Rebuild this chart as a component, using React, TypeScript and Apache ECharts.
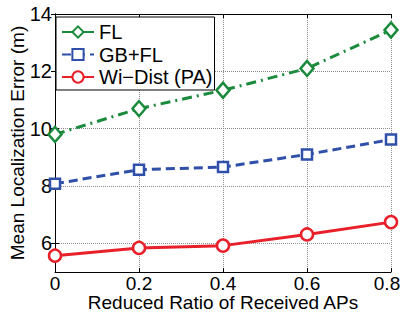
import React, { useEffect, useRef } from "react";
import * as echarts from "echarts";

const xValues = [0, 0.2, 0.4, 0.6, 0.8];
const flValues = [9.8, 10.7, 11.34, 12.1, 13.44];
const gbflValues = [8.08, 8.57, 8.66, 9.1, 9.62];
const wiDistValues = [5.57, 5.84, 5.92, 6.31, 6.74];
const yTicks = [6, 8, 10, 12, 14];
const seriesNames = ["FL", "GB+FL", "Wi\u2212Dist (PA)"];

const FONT = "'Liberation Sans', Arial, Helvetica, sans-serif";

export default function App() {
  const ref = useRef<HTMLDivElement>(null);
  useEffect(() => {
    if (!ref.current) return;
    const chart = echarts.init(ref.current, undefined, { renderer: "svg" });
    const pairs = (ys: number[]) => xValues.map((x, i) => [x, ys[i]]);
    const axisText = { color: "#000", fontSize: 20, fontFamily: FONT };
    const xLabelText = { color: "#000", fontSize: 19, fontFamily: FONT, lineHeight: 14 };
    const boxLine = { show: true, lineStyle: { color: "#000", width: 1 } };
    const xMax = xValues[xValues.length - 1];
    chart.setOption({
      animation: false,
      backgroundColor: "#fff",
      grid: { left: 55, right: 11, top: 14, bottom: 42, containLabel: false, outerBoundsMode: "none" },
      legend: {
        orient: "vertical",
        left: 56,
        top: 17,
        padding: [5, 2, 3, 5],
        itemGap: 2.5,
        itemWidth: 32,
        itemHeight: 14,
        backgroundColor: "#fff",
        borderColor: "#000",
        borderWidth: 1,
        borderRadius: 0,
        textStyle: { color: "#000", fontSize: 20, fontFamily: FONT, lineHeight: 20 },
        data: seriesNames,
      },
      xAxis: [
        {
          type: "value",
          min: 0,
          max: 0.8,
          interval: 0.2,
          position: "bottom",
          name: "Reduced Ratio of Received APs",
          nameLocation: "middle",
          nameGap: 23,
          nameMoveOverlap: false,
          nameTextStyle: { ...axisText, fontSize: 19, lineHeight: 14 },
          axisLine: boxLine,
          axisTick: { show: true, inside: true, length: 4, lineStyle: { color: "#000" } },
          axisLabel: {
            ...xLabelText,
            margin: 4,
            formatter: (v: number) => (Math.abs(v - xMax) < 1e-9 ? "{r|" + v + "}" : String(v)),
            rich: { r: { ...xLabelText, padding: [0, 8, 0, 0] } },
          },
          splitLine: { show: true, lineStyle: { type: "dotted", color: "#8c8c8c", width: 1 } },
        },
        {
          type: "value",
          min: 0,
          max: 0.8,
          interval: 0.2,
          position: "top",
          axisLine: boxLine,
          axisTick: { show: true, inside: true, length: 4, lineStyle: { color: "#000" } },
          axisLabel: { show: false },
          splitLine: { show: false },
        },
      ],
      yAxis: [
        {
          type: "value",
          min: 5,
          max: 14,
          position: "left",
          name: "Mean Localization Error (m)",
          nameLocation: "middle",
          nameGap: 28,
          nameMoveOverlap: false,
          nameTextStyle: { ...axisText, fontSize: 19 },
          axisLine: boxLine,
          axisTick: { show: true, inside: true, length: 4, lineStyle: { color: "#000" }, customValues: yTicks },
          axisLabel: { ...axisText, margin: 3, customValues: yTicks },
          splitLine: { show: true, lineStyle: { type: "dotted", color: "#8c8c8c", width: 1 } },
        },
        {
          type: "value",
          min: 5,
          max: 14,
          position: "right",
          axisLine: boxLine,
          axisTick: { show: true, inside: true, length: 4, lineStyle: { color: "#000" }, customValues: yTicks },
          axisLabel: { show: false, customValues: yTicks },
          splitLine: { show: false },
        },
      ],
      series: [
        {
          name: seriesNames[0],
          type: "line",
          data: pairs(flValues),
          symbol: "diamond",
          symbolSize: [13, 15],
          showAllSymbol: true,
          color: "#1a8a3c",
          lineStyle: { color: "#1a8a3c", width: 3, type: [10, 5, 2, 5] },
          itemStyle: { color: "#fff", borderColor: "#1a8a3c", borderWidth: 2.5 },
          z: 3,
        },
        {
          name: seriesNames[1],
          type: "line",
          data: pairs(gbflValues),
          symbol: "rect",
          symbolSize: 10,
          color: "#2f4fa8",
          lineStyle: { color: "#2f4fa8", width: 3, type: [9, 5] },
          itemStyle: { color: "#fff", borderColor: "#2f4fa8", borderWidth: 2.5 },
          z: 3,
        },
        {
          name: seriesNames[2],
          type: "line",
          data: pairs(wiDistValues),
          symbol: "circle",
          symbolSize: 12,
          color: "#e8202a",
          lineStyle: { color: "#e8202a", width: 3, type: "solid" },
          itemStyle: { color: "#fff", borderColor: "#e8202a", borderWidth: 2.5 },
          z: 3,
        },
      ],
    });
    return () => chart.dispose();
  }, []);
  return (
    <div
      ref={ref}
      style={{ position: "fixed", left: 0, top: 0, width: 402, height: 314, background: "#fff" }}
    />
  );
}
